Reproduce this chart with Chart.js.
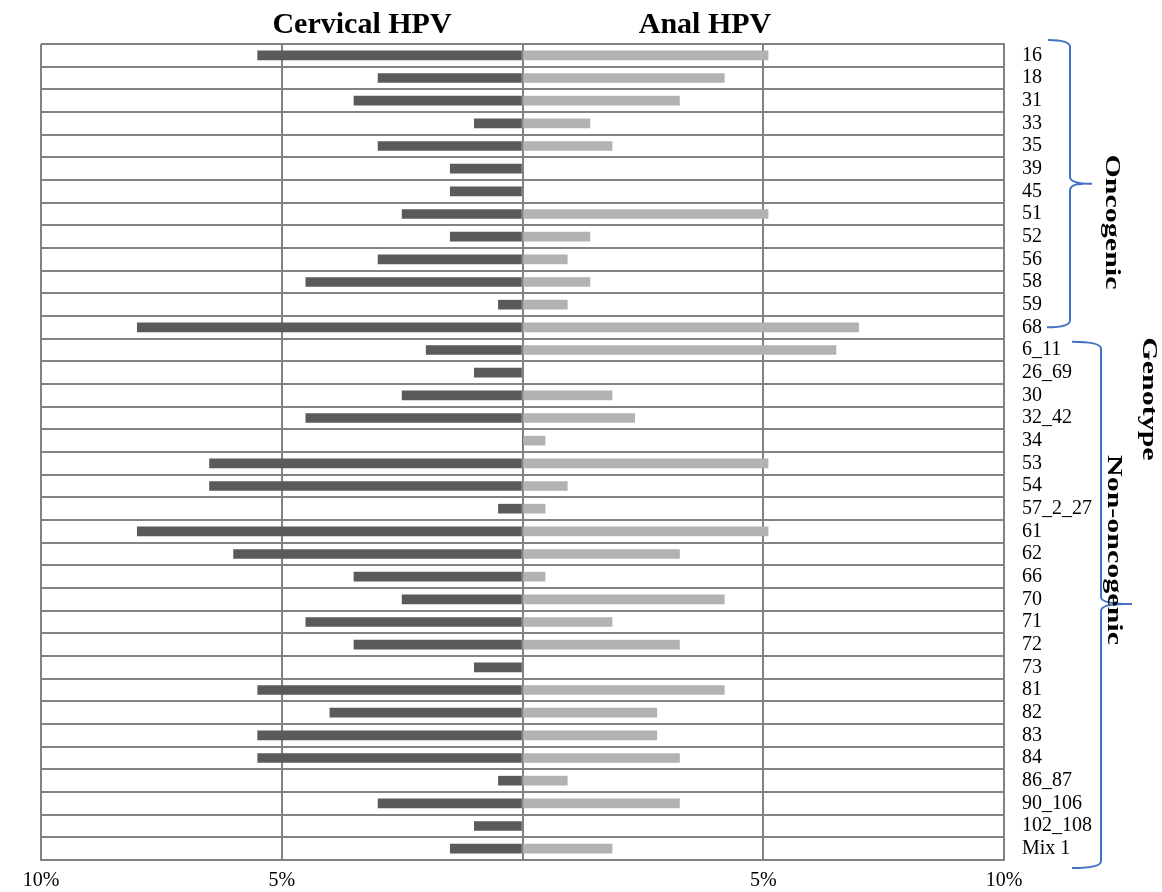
<!DOCTYPE html>
<html>
<head>
<meta charset="utf-8">
<script src="https://cdn.jsdelivr.net/npm/chart.js@4"></script>
<style>
  body { margin: 0; background: #fff; }
  #wrap { width: 1162px; height: 892px; position: relative; }
</style>
</head>
<body>
<div id="wrap"><canvas id="hpvChart"></canvas></div>
<script>
// genotypes (top to bottom)
const genotypes = ['16', '18', '31', '33', '35', '39', '45', '51', '52', '56', '58', '59', '68',
  '6_11', '26_69', '30', '32_42', '34', '53', '54', '57_2_27', '61', '62', '66', '70', '71', '72',
  '73', '81', '82', '83', '84', '86_87', '90_106', '102_108', 'Mix 1'];

// prevalence in % (cervical drawn to the left)
const cervical = [5.5, 3, 3.5, 1, 3, 1.5, 1.5, 2.5, 1.5, 3, 4.5, 0.5, 8,
  2, 1, 2.5, 4.5, 0, 6.5, 6.5, 0.5, 8, 6, 3.5, 2.5, 4.5, 3.5,
  1, 5.5, 4, 5.5, 5.5, 0.5, 3, 1, 1.5];
const anal = [5.1, 4.19, 3.26, 1.4, 1.86, 0, 0, 5.1, 1.4, 0.93, 1.4, 0.93, 6.98,
  6.51, 0, 1.86, 2.33, 0.47, 5.1, 0.93, 0.47, 5.1, 3.26, 0.47, 4.19, 1.86, 3.26,
  0, 4.19, 2.79, 2.79, 3.26, 0.93, 3.26, 0, 1.86];

// x axis ticks
const xTicks = [-10, -5, 0, 5, 10];
const xTickLabels = ['10%', '5%', '', '5%', '10%'];

const seriesNames = ['Cervical HPV', 'Anal HPV'];
const oncogenicCount = 13;

const gridColor = '#828282';
const braceColor = '#4472c4';
const serif = '"Liberation Serif", "Times New Roman", serif';

// titles, braces and group labels
const decorPlugin = {
  id: 'decor',
  afterDraw(chart) {
    const ctx = chart.ctx;
    const area = chart.chartArea;
    const y = chart.scales.y;
    const rowH = (area.bottom - area.top) / genotypes.length;
    ctx.save();
    ctx.fillStyle = '#000';
    ctx.font = 'bold 30px ' + serif;
    ctx.textAlign = 'center';
    ctx.textBaseline = 'alphabetic';
    ctx.fillText(seriesNames[0], 362, 33);
    ctx.fillText(seriesNames[1], 705, 33);

    // braces
    ctx.strokeStyle = braceColor;
    ctx.lineWidth = 2;
    const brace = (x0, top, bot, xl, xt, yt, x1) => {
      ctx.beginPath();
      ctx.moveTo(x0, top);
      ctx.quadraticCurveTo(xl, top, xl, top + 7);
      ctx.lineTo(xl, yt - 7);
      ctx.quadraticCurveTo(xl, yt, xt, yt);
      ctx.moveTo(xt - 8, yt);
      ctx.quadraticCurveTo(xl, yt, xl, yt + 7);
      ctx.lineTo(xl, bot - 7);
      ctx.quadraticCurveTo(xl, bot, x1, bot);
      ctx.stroke();
    };
    const oncTop = area.top - 4;
    const oncBot = y.getPixelForValue(oncogenicCount - 1);
    brace(1048, oncTop, oncBot, 1070, 1092, (oncTop + oncBot) / 2, 1047);
    const nonTop = y.getPixelForValue(oncogenicCount) - rowH / 2 + 3;
    const nonBot = area.bottom + 8;
    brace(1072, nonTop, nonBot, 1101, 1132, 604, 1072);

    // rotated labels
    const vText = (txt, xb, yc) => {
      ctx.save();
      ctx.translate(xb, yc);
      ctx.rotate(Math.PI / 2);
      ctx.scale(1, 0.72);
      ctx.fillStyle = '#000';
      ctx.font = 'bold 30px ' + serif;
      ctx.textAlign = 'center';
      ctx.textBaseline = 'alphabetic';
      ctx.fillText(txt, 0, 0);
      ctx.restore();
    };
    vText('Oncogenic', 1106, 222);
    vText('Genotype', 1143, 399);
    vText('Non-oncogenic', 1108, 550);
    ctx.restore();
  }
};

new Chart(document.getElementById('hpvChart'), {
  type: 'bar',
  data: {
    labels: genotypes,
    datasets: [
      {
        label: seriesNames[0],
        data: cervical.map(v => -v),
        backgroundColor: '#5a5a5a',
        barThickness: 9
      },
      {
        label: seriesNames[1],
        data: anal,
        backgroundColor: '#b2b2b2',
        barThickness: 9
      }
    ]
  },
  options: {
    indexAxis: 'y',
    responsive: true,
    maintainAspectRatio: false,
    animation: false,
    layout: { padding: { left: 41, top: 44, right: 0, bottom: 0 } },
    plugins: {
      legend: { display: false },
      tooltip: { enabled: false }
    },
    scales: {
      x: {
        stacked: true,
        min: -10,
        max: 10,
        afterBuildTicks: scale => { scale.ticks = xTicks.map(v => ({ value: v })); },
        afterFit: scale => { scale.height = 32; },
        ticks: {
          callback: (v) => xTickLabels[xTicks.indexOf(v)],
          font: { family: serif, size: 20 },
          color: '#000',
          padding: 9,
          maxRotation: 0
        },
        grid: { color: gridColor, lineWidth: 2, drawTicks: false },
        border: { color: gridColor, width: 2 }
      },
      y: {
        stacked: true,
        position: 'right',
        afterFit: scale => { scale.width = 158; },
        ticks: {
          font: { family: serif, size: 20 },
          color: '#000',
          padding: 18,
          autoSkip: false
        },
        grid: { color: gridColor, lineWidth: 2, drawTicks: false, offset: true },
        border: { color: gridColor, width: 2 }
      }
    }
  },
  plugins: [decorPlugin]
});
</script>
</body>
</html>
